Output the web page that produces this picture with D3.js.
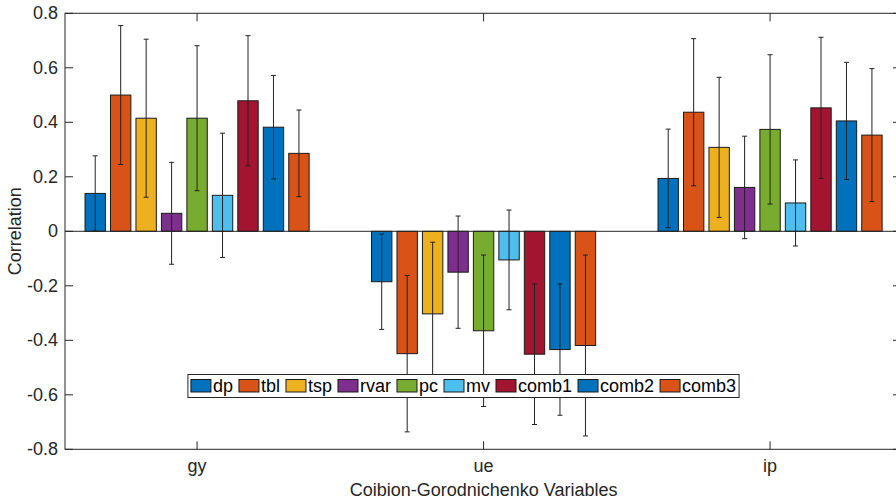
<!DOCTYPE html>
<html>
<head>
<meta charset="utf-8">
<script src="https://cdnjs.cloudflare.com/ajax/libs/d3/7.8.5/d3.min.js"></script>
<style>
  html, body { margin: 0; padding: 0; background: #fff; }
  svg { display: block; font-family: "Liberation Sans", Arial, sans-serif; }
</style>
</head>
<body>
<div id="chart"></div>
<script>
// categories and series
var categories = ['gy', 'ue', 'ip'];
var seriesNames = ['dp', 'tbl', 'tsp', 'rvar', 'pc', 'mv', 'comb1', 'comb2', 'comb3'];
var seriesColors = ['#0072BD', '#D95319', '#EDB120', '#7E2F8E', '#77AC30', '#4DBEEE', '#A2142F', '#0072BD', '#D95319'];

// correlations per category (one value per series)
var gyValues = [0.139, 0.500, 0.415, 0.066, 0.415, 0.132, 0.479, 0.382, 0.286];
var ueValues = [-0.185, -0.449, -0.303, -0.150, -0.365, -0.105, -0.451, -0.434, -0.419];
var ipValues = [0.194, 0.437, 0.308, 0.161, 0.374, 0.104, 0.453, 0.405, 0.353];

// error bar half widths
var gyErr = [0.138, 0.255, 0.290, 0.187, 0.266, 0.228, 0.239, 0.190, 0.159];
var ueErr = [0.175, 0.287, 0.263, 0.206, 0.278, 0.183, 0.258, 0.241, 0.332];
var ipErr = [0.181, 0.270, 0.257, 0.188, 0.274, 0.158, 0.259, 0.215, 0.244];

var yTicks = [-0.8, -0.6, -0.4, -0.2, 0, 0.2, 0.4, 0.6, 0.8];
var yTickLabels = ['-0.8', '-0.6', '-0.4', '-0.2', '0', '0.2', '0.4', '0.6', '0.8'];

var values = [gyValues, ueValues, ipValues];
var errors = [gyErr, ueErr, ipErr];

var W = 896, H = 502;
var padL = 65, padR = 901, padT = 13.3, padB = 449.3;
var axisColor = '#262626';
var fontSize = '18px';

var svg = d3.select('#chart').append('svg')
  .attr('width', W)
  .attr('height', H);

// x in category units (1..3), same limits as the original axes
var x = d3.scaleLinear().domain([0.539, 3.457]).range([padL, padR]);
var y = d3.scaleLinear().domain([-0.8, 0.8]).range([padB, padT]);

var nS = seriesNames.length;
var step = 0.8 / nS;          // spacing of bars inside a group
var barW = step * 0.8;        // bar width in x units

// flatten into one record per bar
var bars = [];
categories.forEach(function (c, ci) {
  seriesNames.forEach(function (s, si) {
    var cx = (ci + 1) + (si - (nS - 1) / 2) * step;
    bars.push({cat: c, s: si, cx: cx, v: values[ci][si], e: errors[ci][si]});
  });
});

var plot = svg.append('g');

plot.selectAll('rect.bar')
  .data(bars)
  .enter().append('rect')
  .attr('class', 'bar')
  .attr('x', function (d) { return x(d.cx - barW / 2); })
  .attr('width', function (d) { return x(d.cx + barW / 2) - x(d.cx - barW / 2); })
  .attr('y', function (d) { return y(Math.max(0, d.v)); })
  .attr('height', function (d) { return Math.abs(y(d.v) - y(0)); })
  .style('fill', function (d) { return seriesColors[d.s]; })
  .style('stroke', '#1a1a1a')
  .style('stroke-width', 1);

// zero baseline
plot.append('line')
  .attr('x1', padL).attr('x2', padR)
  .attr('y1', y(0)).attr('y2', y(0))
  .style('stroke', axisColor)
  .style('stroke-width', 1);

// error bars
var eb = plot.selectAll('g.err')
  .data(bars)
  .enter().append('g')
  .attr('class', 'err')
  .style('stroke', '#222')
  .style('stroke-width', 1);

eb.append('line')
  .attr('x1', function (d) { return x(d.cx); })
  .attr('x2', function (d) { return x(d.cx); })
  .attr('y1', function (d) { return y(d.v + d.e); })
  .attr('y2', function (d) { return y(d.v - d.e); });

[1, -1].forEach(function (sign) {
  eb.append('line')
    .attr('x1', function (d) { return x(d.cx) - 2.5; })
    .attr('x2', function (d) { return x(d.cx) + 2.5; })
    .attr('y1', function (d) { return y(d.v + sign * d.e); })
    .attr('y2', function (d) { return y(d.v + sign * d.e); });
});

// axes box
var axes = svg.append('g').style('stroke', axisColor).style('stroke-width', 1).style('fill', 'none');
axes.append('rect')
  .attr('x', padL).attr('y', padT)
  .attr('width', padR - padL).attr('height', padB - padT);

// y ticks (inward, both sides)
yTicks.forEach(function (t) {
  axes.append('line').attr('x1', padL).attr('x2', padL + 8).attr('y1', y(t)).attr('y2', y(t));
  axes.append('line').attr('x1', padR).attr('x2', padR - 8).attr('y1', y(t)).attr('y2', y(t));
});
// x ticks (inward, top and bottom)
categories.forEach(function (c, i) {
  axes.append('line').attr('x1', x(i + 1)).attr('x2', x(i + 1)).attr('y1', padB).attr('y2', padB - 8);
  axes.append('line').attr('x1', x(i + 1)).attr('x2', x(i + 1)).attr('y1', padT).attr('y2', padT + 8);
});

// tick labels
svg.selectAll('text.ytick')
  .data(yTicks)
  .enter().append('text')
  .attr('class', 'ytick')
  .attr('x', padL - 7)
  .attr('y', function (d) { return y(d) + 6; })
  .attr('text-anchor', 'end')
  .style('font-size', fontSize)
  .style('fill', axisColor)
  .text(function (d, i) { return yTickLabels[i]; });

svg.selectAll('text.xtick')
  .data(categories)
  .enter().append('text')
  .attr('class', 'xtick')
  .attr('x', function (d, i) { return x(i + 1); })
  .attr('y', 472)
  .attr('text-anchor', 'middle')
  .style('font-size', fontSize)
  .style('fill', axisColor)
  .text(String);

svg.append('text')
  .attr('x', x(2))
  .attr('y', 496)
  .attr('text-anchor', 'middle')
  .style('font-size', fontSize)
  .style('fill', axisColor)
  .text('Coibion-Gorodnichenko Variables');

svg.append('text')
  .attr('transform', 'translate(21,' + y(0) + ') rotate(-90)')
  .attr('text-anchor', 'middle')
  .style('font-size', fontSize)
  .style('fill', axisColor)
  .text('Correlation');

// legend
var legend = svg.append('g');
var legBox = legend.append('rect')
  .style('fill', '#fff')
  .style('stroke', axisColor)
  .style('stroke-width', 1);

var cursor = 3;
legend.selectAll('g.item')
  .data(seriesNames)
  .enter().append('g')
  .attr('class', 'item')
  .each(function (d, i) {
    var g = d3.select(this);
    g.append('rect')
      .attr('x', cursor).attr('y', 5)
      .attr('width', 20).attr('height', 12.5)
      .style('fill', seriesColors[i])
      .style('stroke', '#1a1a1a')
      .style('stroke-width', 1);
    var t = g.append('text')
      .attr('x', cursor + 22)
      .attr('y', 17.5)
      .style('font-size', fontSize)
      .style('fill', '#000')
      .text(d);
    cursor += 22 + t.node().getComputedTextLength() + 6;
  });

var legW = cursor - 3;
legBox.attr('x', 0).attr('y', 0).attr('width', legW).attr('height', 23);
legend.attr('transform', 'translate(' + (463.5 - legW / 2) + ',374.5)');
</script>
</body>
</html>
